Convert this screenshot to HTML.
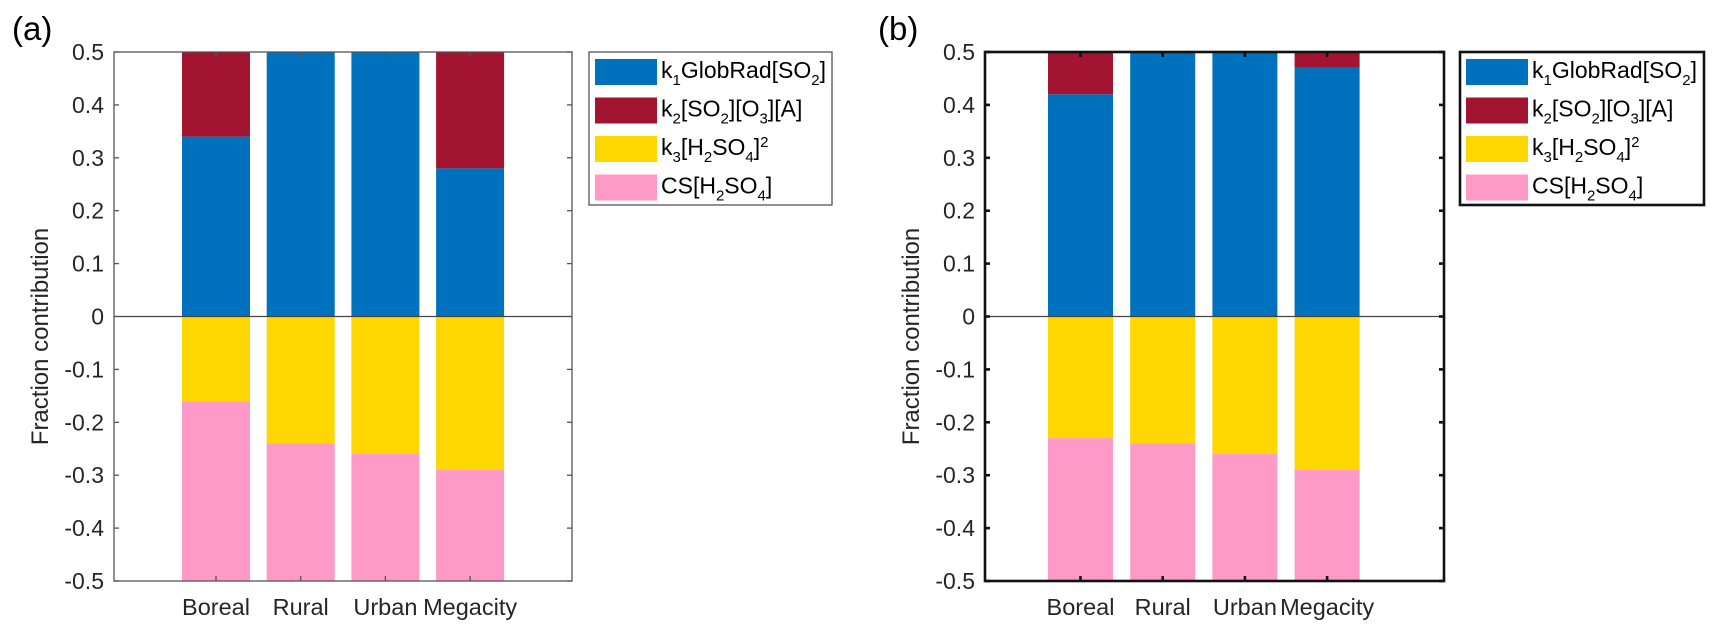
<!DOCTYPE html>
<html><head><meta charset="utf-8"><style>
body{margin:0;background:#fff;}
svg text{font-family:"Liberation Sans",Arial,sans-serif;fill:#262626;}
</style></head><body>
<svg id="fig" width="1721" height="639" xmlns="http://www.w3.org/2000/svg"></svg>
<script>
const categories=["Boreal","Rural","Urban","Megacity"];
const yTicks=[0.5,0.4,0.3,0.2,0.1,0,-0.1,-0.2,-0.3,-0.4,-0.5];
const yTickLabels=["0.5","0.4","0.3","0.2","0.1","0","-0.1","-0.2","-0.3","-0.4","-0.5"];
const aBlue=[0.34,0.5,0.5,0.28];
const aRed=[0.16,0,0,0.22];
const aYellow=[-0.16,-0.24,-0.26,-0.29];
const aPink=[-0.34,-0.26,-0.24,-0.21];
const bBlue=[0.42,0.5,0.5,0.47];
const bRed=[0.08,0,0,0.03];
const bYellow=[-0.23,-0.24,-0.26,-0.29];
const bPink=[-0.27,-0.26,-0.24,-0.21];
const colors={blue:"#0072BD",red:"#A2142F",yellow:"#FFD700",pink:"#FF99C8"};
const NS="http://www.w3.org/2000/svg";
const svg=document.getElementById('fig');
function mk(tag,attrs,parent){const e=document.createElementNS(NS,tag);for(const k in attrs)e.setAttribute(k,attrs[k]);(parent||svg).appendChild(e);return e;}
function panel(cfg){
  const g=mk('g',{});
  
  
  const y=v=>316.5-(v)*529;
  const xc=i=>cfg.c0+cfg.dx*i;
  categories.forEach((c,i)=>{
    let posBase=0,negBase=0;
    [["blue",cfg.blue],["red",cfg.red]].forEach(([col,arr])=>{
      const v=arr[i];if(v<=0)return;
      const r=mk('rect',{x:xc(i)-cfg.bw/2,y:y(posBase+v),width:cfg.bw,height:y(posBase)-y(posBase+v),fill:colors[col]},g);
      
      
      posBase+=v;
    });
    [["yellow",cfg.yellow],["pink",cfg.pink]].forEach(([col,arr])=>{
      const v=arr[i];
      const r=mk('rect',{x:xc(i)-cfg.bw/2,y:y(negBase),width:cfg.bw,height:y(negBase+v)-y(negBase),fill:colors[col]},g);
      
      
      negBase+=v;
    });
  });
  const L=cfg.x0,R=cfg.x1,T=y(0.5),B=y(-0.5);
  mk('line',{x1:L,x2:R,y1:y(0),y2:y(0),stroke:"#444",'stroke-width':1.2},g);
  const ax=mk('rect',{x:L,y:T,width:R-L,height:B-T,fill:"none",stroke:cfg.stroke,'stroke-width':cfg.sw},g);
  
  
  yTicks.forEach((v,k)=>{
    mk('line',{x1:L,x2:L+5,y1:y(v),y2:y(v),stroke:cfg.stroke,'stroke-width':cfg.sw},g);
    mk('line',{x1:R,x2:R-5,y1:y(v),y2:y(v),stroke:cfg.stroke,'stroke-width':cfg.sw},g);
    const t=mk('text',{x:L-10,y:y(v)+8,'text-anchor':'end','font-size':23},g);
    t.textContent=yTickLabels[k];
    
    
  });
  categories.forEach((c,i)=>{
    mk('line',{x1:xc(i),x2:xc(i),y1:T,y2:T+5,stroke:cfg.stroke,'stroke-width':cfg.sw},g);
    mk('line',{x1:xc(i),x2:xc(i),y1:B,y2:B-5,stroke:cfg.stroke,'stroke-width':cfg.sw},g);
    const t=mk('text',{x:xc(i),y:B+34,'text-anchor':'middle','font-size':23.5},g);
    t.textContent=c;
    
    
  });
  const yl=mk('text',{x:0,y:0,'text-anchor':'middle','font-size':24,transform:`translate(${L-66},${y(0)+20}) rotate(-90)`},g);
  yl.textContent="Fraction contribution";
  
  
  const pl=mk('text',{x:cfg.lx,y:40,'font-size':33,style:'fill:#000'},g);
  pl.textContent=cfg.label;
  
  
  const lg=mk('g',{},g);
  
  
  mk('rect',{x:cfg.gx,y:52,width:cfg.gw,height:153,fill:"#fff",stroke:cfg.stroke,'stroke-width':cfg.sw},lg);
  const entries=[["blue",'k<tspan font-size="15" dy="7">1</tspan><tspan dy="-7">GlobRad[SO</tspan><tspan font-size="15" dy="7">2</tspan><tspan dy="-7">]</tspan>'],
    ["red",'k<tspan font-size="15" dy="7">2</tspan><tspan dy="-7">[SO</tspan><tspan font-size="15" dy="7">2</tspan><tspan dy="-7">][O</tspan><tspan font-size="15" dy="7">3</tspan><tspan dy="-7">][A]</tspan>'],
    ["yellow",'k<tspan font-size="15" dy="7">3</tspan><tspan dy="-7">[H</tspan><tspan font-size="15" dy="7">2</tspan><tspan dy="-7">SO</tspan><tspan font-size="15" dy="7">4</tspan><tspan dy="-7">]</tspan><tspan font-size="15" dy="-8">2</tspan>'],
    ["pink",'CS[H<tspan font-size="15" dy="7">2</tspan><tspan dy="-7">SO</tspan><tspan font-size="15" dy="7">4</tspan><tspan dy="-7">]</tspan>']];
  entries.forEach(([col,html],k)=>{
    const cy=72+k*38.5;
    const e=mk('g',{},lg);
    
    
    mk('rect',{x:cfg.gx+6,y:cy-13,width:62,height:26,fill:colors[col]},e);
    const t=mk('text',{x:cfg.gx+72,y:cy+6,'font-size':23,style:'fill:#000'},e);
    t.innerHTML=html;
  });
}
panel({id:'a',label:'(a)',lx:12,x0:114,x1:572,c0:216,dx:84.7,bw:68,stroke:"#555",sw:1.3,gx:589,gw:243,blue:aBlue,red:aRed,yellow:aYellow,pink:aPink});
panel({id:'b',label:'(b)',lx:878,x0:985,x1:1444,c0:1080.5,dx:82.2,bw:65,stroke:"#111",sw:2.6,gx:1460,gw:244,blue:bBlue,red:bRed,yellow:bYellow,pink:bPink});
</script>
</body></html>
